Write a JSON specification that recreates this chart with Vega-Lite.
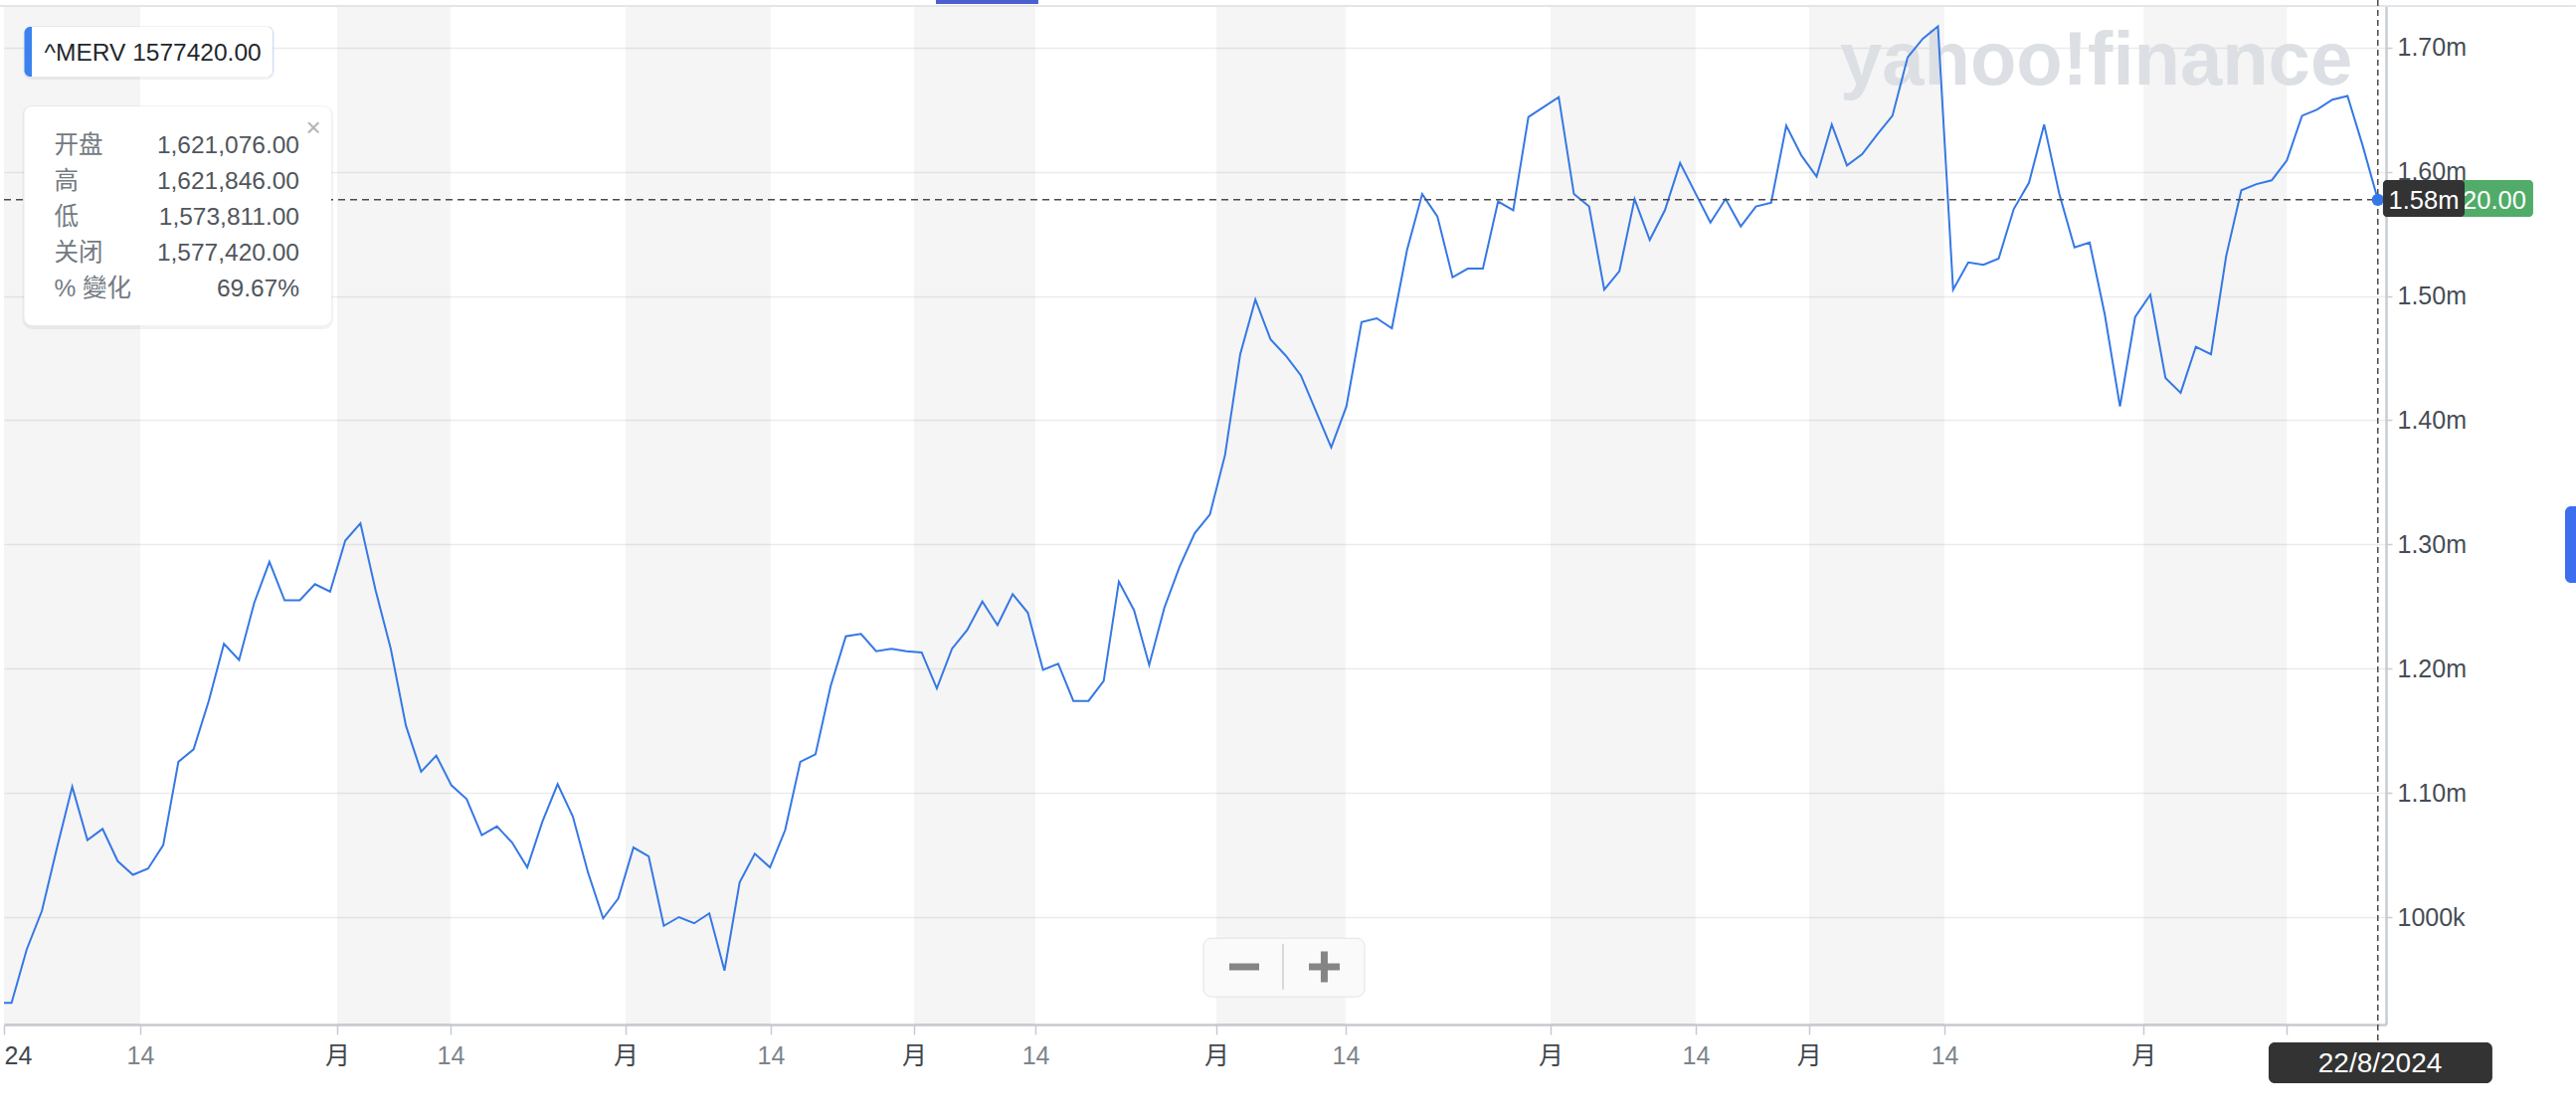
{
  "$schema": "https://vega.github.io/schema/vega-lite/v6.json",
  "width": 2395,
  "height": 1024,
  "autosize": {"type": "none"},
  "padding": {"left": 4, "top": 6, "right": 191, "bottom": 96},
  "background": "white",
  "config": {"view": {"stroke": null}, "font": "Liberation Sans"},
  "datasets": {
    "merv": [
      {"k": -1, "close": 931000}, {"k": 0, "close": 931000}, {"k": 1, "close": 974000}, {"k": 2, "close": 1005000},
      {"k": 3, "close": 1056000}, {"k": 4, "close": 1105000}, {"k": 5, "close": 1062000}, {"k": 6, "close": 1071000},
      {"k": 7, "close": 1045000}, {"k": 8, "close": 1034000}, {"k": 9, "close": 1039000}, {"k": 10, "close": 1058000},
      {"k": 11, "close": 1125000}, {"k": 12, "close": 1135000}, {"k": 13, "close": 1174000}, {"k": 14, "close": 1220000},
      {"k": 15, "close": 1207000}, {"k": 16, "close": 1253000}, {"k": 17, "close": 1286000}, {"k": 18, "close": 1255000},
      {"k": 19, "close": 1255000}, {"k": 20, "close": 1268000}, {"k": 21, "close": 1262000}, {"k": 22, "close": 1303000},
      {"k": 23, "close": 1317000}, {"k": 24, "close": 1263000}, {"k": 25, "close": 1216000}, {"k": 26, "close": 1154000},
      {"k": 27, "close": 1117000}, {"k": 28, "close": 1130000}, {"k": 29, "close": 1106000}, {"k": 30, "close": 1095000},
      {"k": 31, "close": 1066000}, {"k": 32, "close": 1073000}, {"k": 33, "close": 1060000}, {"k": 34, "close": 1040000},
      {"k": 35, "close": 1077000}, {"k": 36, "close": 1107000}, {"k": 37, "close": 1081000}, {"k": 38, "close": 1036000},
      {"k": 39, "close": 999000}, {"k": 40, "close": 1015000}, {"k": 41, "close": 1056000}, {"k": 42, "close": 1049000},
      {"k": 43, "close": 993000}, {"k": 44, "close": 1000000}, {"k": 45, "close": 995000}, {"k": 46, "close": 1003000},
      {"k": 47, "close": 957000}, {"k": 48, "close": 1028000}, {"k": 49, "close": 1051000}, {"k": 50, "close": 1040000},
      {"k": 51, "close": 1070000}, {"k": 52, "close": 1125000}, {"k": 53, "close": 1131000}, {"k": 54, "close": 1186000},
      {"k": 55, "close": 1226000}, {"k": 56, "close": 1228000}, {"k": 57, "close": 1214000}, {"k": 58, "close": 1216000},
      {"k": 59, "close": 1214000}, {"k": 60, "close": 1213000}, {"k": 61, "close": 1184000}, {"k": 62, "close": 1216000},
      {"k": 63, "close": 1231000}, {"k": 64, "close": 1254000}, {"k": 65, "close": 1235000}, {"k": 66, "close": 1260000},
      {"k": 67, "close": 1245000}, {"k": 68, "close": 1199000}, {"k": 69, "close": 1204000}, {"k": 70, "close": 1174000},
      {"k": 71, "close": 1174000}, {"k": 72, "close": 1190000}, {"k": 73, "close": 1270000}, {"k": 74, "close": 1247000},
      {"k": 75, "close": 1203000}, {"k": 76, "close": 1249000}, {"k": 77, "close": 1282000}, {"k": 78, "close": 1309000},
      {"k": 79, "close": 1324000}, {"k": 80, "close": 1372000}, {"k": 81, "close": 1453000}, {"k": 82, "close": 1497000},
      {"k": 83, "close": 1465000}, {"k": 84, "close": 1452000}, {"k": 85, "close": 1436000}, {"k": 86, "close": 1407000},
      {"k": 87, "close": 1378000}, {"k": 88, "close": 1411000}, {"k": 89, "close": 1479000}, {"k": 90, "close": 1482000},
      {"k": 91, "close": 1474000}, {"k": 92, "close": 1537000}, {"k": 93, "close": 1582000}, {"k": 94, "close": 1564000},
      {"k": 95, "close": 1515000}, {"k": 96, "close": 1522000}, {"k": 97, "close": 1522000}, {"k": 98, "close": 1576000},
      {"k": 99, "close": 1569000}, {"k": 100, "close": 1644000}, {"k": 101, "close": 1652000}, {"k": 102, "close": 1660000},
      {"k": 103, "close": 1582000}, {"k": 104, "close": 1572000}, {"k": 105, "close": 1505000}, {"k": 106, "close": 1520000},
      {"k": 107, "close": 1578000}, {"k": 108, "close": 1545000}, {"k": 109, "close": 1569000}, {"k": 110, "close": 1607000},
      {"k": 111, "close": 1583000}, {"k": 112, "close": 1559000}, {"k": 113, "close": 1578000}, {"k": 114, "close": 1556000},
      {"k": 115, "close": 1572000}, {"k": 116, "close": 1575000}, {"k": 117, "close": 1637000}, {"k": 118, "close": 1613000},
      {"k": 119, "close": 1596000}, {"k": 120, "close": 1638000}, {"k": 121, "close": 1605000}, {"k": 122, "close": 1614000},
      {"k": 123, "close": 1630000}, {"k": 124, "close": 1645000}, {"k": 125, "close": 1692000}, {"k": 126, "close": 1707000},
      {"k": 127, "close": 1717000}, {"k": 128, "close": 1505000}, {"k": 129, "close": 1527000}, {"k": 130, "close": 1525000},
      {"k": 131, "close": 1530000}, {"k": 132, "close": 1570000}, {"k": 133, "close": 1591000}, {"k": 134, "close": 1638000},
      {"k": 135, "close": 1582000}, {"k": 136, "close": 1539000}, {"k": 137, "close": 1543000}, {"k": 138, "close": 1485000},
      {"k": 139, "close": 1411000}, {"k": 140, "close": 1483000}, {"k": 141, "close": 1501000}, {"k": 142, "close": 1434000},
      {"k": 143, "close": 1422000}, {"k": 144, "close": 1459000}, {"k": 145, "close": 1453000}, {"k": 146, "close": 1532000},
      {"k": 147, "close": 1585000}, {"k": 148, "close": 1590000}, {"k": 149, "close": 1593000}, {"k": 150, "close": 1609000},
      {"k": 151, "close": 1645000}, {"k": 152, "close": 1650000}, {"k": 153, "close": 1658000}, {"k": 154, "close": 1661000},
      {"k": 155, "close": 1621000}, {"k": 156, "close": 1577420}
    ],
    "bands": [
      {"start": -0.5, "end": 8.48}, {"start": 21.46, "end": 28.94}, {"start": 40.48, "end": 50.05},
      {"start": 59.5, "end": 67.5}, {"start": 79.43, "end": 87.95}, {"start": 101.46, "end": 111.03},
      {"start": 118.5, "end": 127.43}, {"start": 140.55, "end": 150.0}
    ],
    "one": [{}]
  },
  "layer": [
    {
      "data": {"name": "merv"},
      "mark": {"type": "line", "strokeOpacity": 0, "clip": true},
      "encoding": {
        "x": {
          "field": "k", "type": "quantitative", "title": null,
          "scale": {"domain": [-0.5, 156.54], "nice": false, "zero": false},
          "axis": {
            "title": null,
            "values": [-0.5, 8.48, 21.46, 28.94, 40.48, 50.05, 59.5, 67.5, 79.43, 87.95, 101.46, 111.03, 118.5, 127.43, 140.55, 150.0],
            "labelExpr": "datum.value < 0 ? '24' : datum.value > 149 ? '' : indexof([8.48, 28.94, 50.05, 67.5, 87.95, 111.03, 127.43], datum.value) >= 0 ? '14' : '月'",
            "labelColor": {"condition": {"test": "indexof([8.48, 28.94, 50.05, 67.5, 87.95, 111.03, 127.43], datum.value) >= 0", "value": "#7d848b"}, "value": "#40474e"},
            "labelFont": "Liberation Sans, Noto Sans CJK SC",
            "labelFontSize": 25,
            "labelPadding": 9,
            "labelFlush": true,
            "labelOverlap": false,
            "labelBound": false,
            "grid": false,
            "domainColor": "#c6cacf",
            "domainWidth": 2.5,
            "tickColor": "#c6cacf",
            "tickSize": 10,
            "tickWidth": 1.5
          }
        },
        "y": {
          "field": "close", "type": "quantitative", "title": null,
          "scale": {"domain": [913531, 1733387], "nice": false, "zero": false},
          "axis": {
            "title": null,
            "orient": "right",
            "values": [1000000, 1100000, 1200000, 1300000, 1400000, 1500000, 1600000, 1700000],
            "labelExpr": "datum.value >= 1050000 ? format(datum.value / 1000000, '.2f') + 'm' : format(datum.value / 1000, 'd') + 'k'",
            "labelFont": "Liberation Sans",
            "labelFontSize": 25,
            "labelColor": "#464d55",
            "labelPadding": 5,
            "grid": true,
            "gridColor": "#ececec",
            "gridWidth": 1.5,
            "domainColor": "#c9ccd0",
            "domainWidth": 2.5,
            "tickColor": "#c9ccd0",
            "tickSize": 6,
            "tickWidth": 1.5
          }
        }
      }
    },
    {
      "data": {"name": "bands"},
      "mark": {"type": "rect", "fill": "#000000", "fillOpacity": 0.04},
      "encoding": {
        "x": {"field": "start", "type": "quantitative", "title": null},
        "x2": {"field": "end"}
      }
    },
    {
      "data": {"name": "one"},
      "mark": {"type": "rule", "color": "#e2e5e9", "strokeWidth": 2},
      "encoding": {
        "x": {"datum": -0.762, "type": "quantitative"},
        "x2": {"datum": 169.06},
        "y": {"datum": 1733387, "type": "quantitative"}
      }
    },
    {
      "data": {"name": "one"},
      "mark": {"type": "text", "text": "yahoo!finance", "font": "Liberation Sans", "fontWeight": "bold", "fontSize": 76, "color": "#dcdfe3", "align": "left", "baseline": "alphabetic"},
      "encoding": {
        "x": {"datum": 120.54, "type": "quantitative"},
        "y": {"datum": 1670136, "type": "quantitative"}
      }
    },
    {
      "data": {"name": "merv"},
      "mark": {"type": "line", "color": "#3578e5", "strokeWidth": 2, "clip": true},
      "encoding": {
        "x": {"field": "k", "type": "quantitative", "title": null},
        "y": {"field": "close", "type": "quantitative", "title": null}
      }
    },
    {
      "data": {"name": "one"},
      "mark": {"type": "rule", "color": "#4a4a4a", "strokeWidth": 1.5, "strokeDash": [7, 5]},
      "encoding": {
        "x": {"datum": -0.5, "type": "quantitative"},
        "x2": {"datum": 156},
        "y": {"datum": 1577420, "type": "quantitative"}
      }
    },
    {
      "data": {"name": "one"},
      "mark": {"type": "rule", "color": "#4a4a4a", "strokeWidth": 1.5, "strokeDash": [6, 4]},
      "encoding": {
        "x": {"datum": 156, "type": "quantitative"},
        "y": {"datum": 1738190, "type": "quantitative"},
        "y2": {"datum": 899120}
      }
    },
    {
      "data": {"name": "merv"},
      "transform": [{"filter": "datum.k == 156"}],
      "mark": {"type": "point", "filled": true, "color": "#3578e5", "size": 150, "opacity": 1},
      "encoding": {
        "x": {"field": "k", "type": "quantitative", "title": null},
        "y": {"field": "close", "type": "quantitative", "title": null}
      }
    },
    {
      "data": {"name": "one"},
      "mark": {"type": "rect", "fill": "#000000", "fillOpacity": 0.05, "cornerRadius": 8},
      "encoding": {
        "x": {"datum": 0.779, "type": "quantitative"}, "x2": {"datum": 17.335},
        "y": {"datum": 1717374, "type": "quantitative"}, "y2": {"datum": 1674139}
      }
    },
    {
      "data": {"name": "one"},
      "mark": {"type": "rect", "fill": "#3b82f0", "cornerRadius": 6},
      "encoding": {
        "x": {"datum": 0.844, "type": "quantitative"}, "x2": {"datum": 17.237},
        "y": {"datum": 1716573, "type": "quantitative"}, "y2": {"datum": 1676541}
      }
    },
    {
      "data": {"name": "one"},
      "mark": {"type": "rect", "fill": "#ffffff", "cornerRadiusTopRight": 6, "cornerRadiusBottomRight": 6},
      "encoding": {
        "x": {"datum": 1.336, "type": "quantitative"}, "x2": {"datum": 17.237},
        "y": {"datum": 1716573, "type": "quantitative"}, "y2": {"datum": 1676541}
      }
    },
    {
      "data": {"name": "one"},
      "mark": {"type": "text", "text": "^MERV 1577420.00", "font": "Liberation Sans", "fontSize": 24.5, "color": "#22272c", "align": "left", "baseline": "middle"},
      "encoding": {
        "x": {"datum": 2.162, "type": "quantitative"},
        "y": {"datum": 1695276, "type": "quantitative"}
      }
    },
    {
      "data": {"name": "one"},
      "mark": {"type": "rect", "fill": "#000000", "fillOpacity": 0.05, "cornerRadius": 10},
      "encoding": {
        "x": {"datum": 0.713, "type": "quantitative"}, "x2": {"datum": 21.204},
        "y": {"datum": 1653323, "type": "quantitative"}, "y2": {"datum": 1473178}
      }
    },
    {
      "data": {"name": "one"},
      "mark": {"type": "rect", "fill": "#ffffff", "cornerRadius": 8},
      "encoding": {
        "x": {"datum": 0.844, "type": "quantitative"}, "x2": {"datum": 21.072},
        "y": {"datum": 1652522, "type": "quantitative"}, "y2": {"datum": 1476381}
      }
    },
    {
      "data": {"name": "one"},
      "mark": {"type": "text", "text": ["开盘", "高", "低", "关闭", "% 變化"], "lineHeight": 36, "font": "Liberation Sans, Noto Sans CJK SC", "fontSize": 24.5, "color": "#737a81", "align": "left", "baseline": "top"},
      "encoding": {
        "x": {"datum": 2.811, "type": "quantitative"},
        "y": {"datum": 1630425, "type": "quantitative"}
      }
    },
    {
      "data": {"name": "one"},
      "mark": {"type": "text", "text": ["1,621,076.00", "1,621,846.00", "1,573,811.00", "1,577,420.00", "69.67%"], "lineHeight": 36, "font": "Liberation Sans", "fontSize": 24.5, "color": "#50565c", "align": "right", "baseline": "top"},
      "encoding": {
        "x": {"datum": 18.974, "type": "quantitative"},
        "y": {"datum": 1630425, "type": "quantitative"}
      }
    },
    {
      "data": {"name": "one"},
      "mark": {"type": "text", "text": "×", "font": "Liberation Sans", "fontSize": 26, "color": "#b4b4b4", "align": "center", "baseline": "middle"},
      "encoding": {
        "x": {"datum": 19.892, "type": "quantitative"},
        "y": {"datum": 1634747, "type": "quantitative"}
      }
    },
    {
      "data": {"name": "one"},
      "mark": {"type": "rect", "fill": "#50ac68", "cornerRadius": 4},
      "encoding": {
        "x": {"datum": 156.34, "type": "quantitative"}, "x2": {"datum": 166.24},
        "y": {"datum": 1593275, "type": "quantitative"}, "y2": {"datum": 1563651}
      }
    },
    {
      "data": {"name": "one"},
      "mark": {"type": "text", "text": "20.00", "font": "Liberation Sans", "fontSize": 25.5, "color": "#ffffff", "align": "right", "baseline": "middle"},
      "encoding": {
        "x": {"datum": 165.78, "type": "quantitative"},
        "y": {"datum": 1576221, "type": "quantitative"}
      }
    },
    {
      "data": {"name": "one"},
      "mark": {"type": "rect", "fill": "#333333", "cornerRadius": 4},
      "encoding": {
        "x": {"datum": 156.34, "type": "quantitative"}, "x2": {"datum": 161.72},
        "y": {"datum": 1593275, "type": "quantitative"}, "y2": {"datum": 1563651}
      }
    },
    {
      "data": {"name": "one"},
      "mark": {"type": "text", "text": "1.58m", "font": "Liberation Sans", "fontSize": 25.5, "color": "#ffffff", "align": "center", "baseline": "middle"},
      "encoding": {
        "x": {"datum": 159.03, "type": "quantitative"},
        "y": {"datum": 1576221, "type": "quantitative"}
      }
    },
    {
      "data": {"name": "one"},
      "mark": {"type": "rect", "fill": "#333333", "cornerRadius": 6},
      "encoding": {
        "x": {"datum": 148.80, "type": "quantitative"}, "x2": {"datum": 163.55},
        "y": {"datum": 899120, "type": "quantitative"}, "y2": {"datum": 866294}
      }
    },
    {
      "data": {"name": "one"},
      "mark": {"type": "text", "text": "22/8/2024", "font": "Liberation Sans", "fontSize": 28, "color": "#ffffff", "align": "center", "baseline": "middle"},
      "encoding": {
        "x": {"datum": 156.15, "type": "quantitative"},
        "y": {"datum": 881586, "type": "quantitative"}
      }
    },
    {
      "data": {"name": "one"},
      "mark": {"type": "rect", "fill": "#fafafa", "stroke": "#e3e3e3", "strokeWidth": 1, "cornerRadius": 8},
      "encoding": {
        "x": {"datum": 78.58, "type": "quantitative"}, "x2": {"datum": 89.20},
        "y": {"datum": 983027, "type": "quantitative"}, "y2": {"datum": 935789}
      }
    },
    {
      "data": {"name": "one"},
      "mark": {"type": "rule", "color": "#858585", "strokeWidth": 7},
      "encoding": {
        "x": {"datum": 80.28, "type": "quantitative"}, "x2": {"datum": 82.25},
        "y": {"datum": 959969, "type": "quantitative"}
      }
    },
    {
      "data": {"name": "one"},
      "mark": {"type": "rule", "color": "#858585", "strokeWidth": 7},
      "encoding": {
        "x": {"datum": 85.53, "type": "quantitative"}, "x2": {"datum": 87.56},
        "y": {"datum": 959969, "type": "quantitative"}
      }
    },
    {
      "data": {"name": "one"},
      "mark": {"type": "rule", "color": "#858585", "strokeWidth": 7},
      "encoding": {
        "x": {"datum": 86.54, "type": "quantitative"},
        "y": {"datum": 972378, "type": "quantitative"}, "y2": {"datum": 947559}
      }
    },
    {
      "data": {"name": "one"},
      "mark": {"type": "rule", "color": "#d8d8d8", "strokeWidth": 2},
      "encoding": {
        "x": {"datum": 83.82, "type": "quantitative"},
        "y": {"datum": 978383, "type": "quantitative"}, "y2": {"datum": 941554}
      }
    },
    {
      "data": {"name": "one"},
      "mark": {"type": "rect", "fill": "#4b5fd1"},
      "encoding": {
        "x": {"datum": 60.94, "type": "quantitative"}, "x2": {"datum": 67.69},
        "y": {"datum": 1738190, "type": "quantitative"}, "y2": {"datum": 1734987}
      }
    },
    {
      "data": {"name": "one"},
      "mark": {"type": "rect", "fill": "#3d6ef0", "cornerRadius": 6},
      "encoding": {
        "x": {"datum": 168.34, "type": "quantitative"}, "x2": {"datum": 169.72},
        "y": {"datum": 1330667, "type": "quantitative"}, "y2": {"datum": 1269018}
      }
    }
  ]
}
